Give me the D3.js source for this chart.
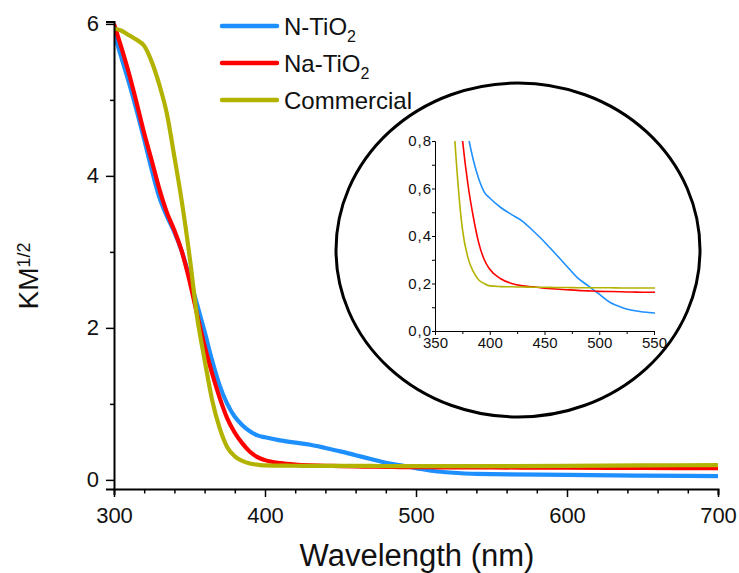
<!DOCTYPE html>
<html><head><meta charset="utf-8">
<script src="https://cdn.jsdelivr.net/npm/d3@7"></script>
<style>body{margin:0;background:#fff}svg{display:block}text{font-family:"Liberation Sans",Arial,sans-serif;fill:#111}</style>
</head><body><svg id="c" width="739" height="573"></svg>
<script>
const wavelength = [300,305,310,315,320,325,330,335,340,345,350,355,360,365,370,375,380,385,390,395,400,410,420,430,440,450,460,470,480,490,500,510,520,530,540,550,600,650,700];
const nTiO2 = [5.88,5.55,5.22,4.86,4.48,4.08,3.72,3.47,3.26,3.00,2.66,2.31,1.95,1.57,1.24,1.00,0.83,0.72,0.64,0.585,0.56,0.52,0.49,0.462,0.42,0.375,0.325,0.275,0.225,0.19,0.155,0.12,0.10,0.087,0.08,0.076,0.065,0.055,0.05];
const naTiO2 = [6.0,5.68,5.34,4.96,4.56,4.20,3.83,3.52,3.28,3.00,2.62,2.18,1.76,1.40,1.08,0.81,0.62,0.48,0.37,0.30,0.26,0.22,0.20,0.19,0.186,0.18,0.177,0.174,0.171,0.169,0.167,0.166,0.165,0.164,0.163,0.163,0.16,0.156,0.155];
const commercial = [5.94,5.91,5.85,5.79,5.71,5.50,5.20,4.82,4.25,3.65,2.95,2.15,1.58,1.05,0.68,0.43,0.31,0.25,0.215,0.20,0.19,0.187,0.186,0.185,0.184,0.184,0.183,0.183,0.182,0.182,0.182,0.182,0.181,0.181,0.181,0.181,0.185,0.19,0.195];
const seriesNames = ["N-TiO", "Na-TiO", "Commercial"];
const seriesSub = ["2", "2", ""];
const seriesColors = ["#1e8fff", "#ff0000", "#b2b200"];
const seriesValues = [nTiO2, naTiO2, commercial];
const xTicks = [300,400,500,600,700];
const yTicks = [0,2,4,6];
const insetXTicks = [350,400,450,500,550];
const insetYTicks = [0,0.2,0.4,0.6,0.8];

const svg = d3.select("#c");
const x = d3.scaleLinear().domain([300,700]).range([114,718]);
const y = d3.scaleLinear().domain([-0.12,6.03]).range([489,21.6]);

// main lines
svg.append("clipPath").attr("id","cm").append("rect").attr("x",114).attr("y",18).attr("width",606).attr("height",471);
const gl = svg.append("g").attr("clip-path","url(#cm)");
const order = [0,1,2];
order.forEach(i=>{
  const line = d3.line().x((d,j)=>x(wavelength[j])).y(d=>y(d)).curve(d3.curveMonotoneX);
  gl.append("path").attr("d",line(seriesValues[i])).attr("fill","none").attr("stroke",seriesColors[i]).attr("stroke-width",4.2).attr("stroke-linejoin","round");
});

// axes
const xAxis = d3.axisBottom(x).tickValues(d3.range(300,701,20)).tickSize(6).tickFormat(d=>xTicks.includes(d)?d:"");
const gx = svg.append("g").attr("transform","translate(0,489)").call(xAxis);
gx.select(".domain").attr("stroke","#000").attr("stroke-width",2);
gx.selectAll(".tick line").attr("stroke","#000").attr("stroke-width",1.5).attr("y2",d=>xTicks.includes(d)?8:4.5);
gx.selectAll(".tick text").attr("font-size",22).attr("y",18).attr("fill","#111");
const yAxis = d3.axisLeft(y).tickValues(d3.range(0,7,1)).tickSize(8).tickFormat(d=>yTicks.includes(d)?d:"");
const gy = svg.append("g").attr("transform","translate(114,0)").call(yAxis);
gy.select(".domain").attr("stroke","#000").attr("stroke-width",2);
gy.selectAll(".tick line").attr("stroke","#000").attr("stroke-width",1.5).attr("x2",d=>yTicks.includes(d)?-8:-4);
gy.selectAll(".tick text").attr("font-size",22).attr("x",-15).attr("fill","#111");

// axis titles
svg.append("text").attr("x",417).attr("y",566).attr("text-anchor","middle").attr("font-size",31).text("Wavelength (nm)");
const yt = svg.append("text").attr("transform","translate(38,276) rotate(-90)").attr("text-anchor","middle").attr("font-size",28);
yt.append("tspan").text("KM");
yt.append("tspan").attr("font-size",18).attr("dy",-8).text("1/2");

// legend
seriesNames.forEach((n,i)=>{
  const ly = 26 + i*37;
  svg.append("line").attr("x1",222).attr("x2",277).attr("y1",ly).attr("y2",ly).attr("stroke",seriesColors[i]).attr("stroke-width",4.5).attr("stroke-linecap","round");
  const t = svg.append("text").attr("x",284).attr("y",ly+9).attr("font-size",24);
  t.append("tspan").text(n);
  if(seriesSub[i]) t.append("tspan").attr("font-size",16).attr("dy",7).text(seriesSub[i]);
});

// inset ellipse
svg.append("ellipse").attr("cx",518).attr("cy",250).attr("rx",182).attr("ry",167).attr("fill","none").attr("stroke","#000").attr("stroke-width",3);

// inset chart
const ix = d3.scaleLinear().domain([350,550]).range([435,654]);
const iy = d3.scaleLinear().domain([0,0.8]).range([331,141]);
svg.append("clipPath").attr("id","ci").append("rect").attr("x",435).attr("y",141).attr("width",220).attr("height",190);
const gi = svg.append("g").attr("clip-path","url(#ci)");
order.forEach(i=>{
  const line = d3.line().x((d,j)=>ix(wavelength[j])).y(d=>iy(d)).curve(d3.curveMonotoneX);
  gi.append("path").attr("d",line(seriesValues[i])).attr("fill","none").attr("stroke",seriesColors[i]).attr("stroke-width",1.6);
});
const ixAxis = d3.axisBottom(ix).tickValues(d3.range(350,551,25)).tickSize(3).tickFormat(d=>insetXTicks.includes(d)?d:"");
const gix = svg.append("g").attr("transform","translate(0,331)").call(ixAxis);
gix.select(".domain").attr("stroke","#000").attr("stroke-width",1);
gix.selectAll(".tick line").attr("stroke","#000").attr("y2",d=>insetXTicks.includes(d)?4:3);
gix.selectAll(".tick text").attr("font-size",15).attr("y",6).attr("fill","#111");
const iyAxis = d3.axisLeft(iy).tickValues([0,0.1,0.2,0.3,0.4,0.5,0.6,0.7,0.8]).tickSize(3).tickFormat(d=>insetYTicks.some(v=>Math.abs(v-d)<1e-9)?d3.format(".1f")(d).replace(".",","):"");
const giy = svg.append("g").attr("transform","translate(435,0)").call(iyAxis);
giy.select(".domain").attr("stroke","#000").attr("stroke-width",1);
giy.selectAll(".tick line").attr("stroke","#000");
giy.selectAll(".tick text").attr("font-size",15).attr("x",-3).attr("letter-spacing",1).attr("fill","#111");
</script></body></html>
